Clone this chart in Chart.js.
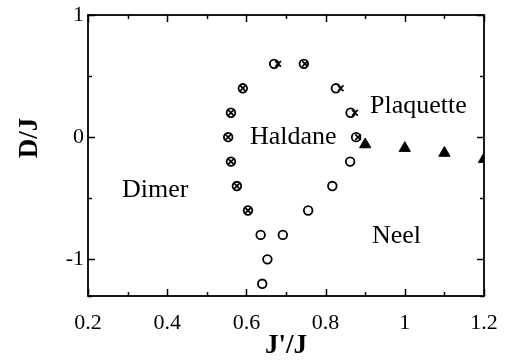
<!DOCTYPE html>
<html>
<head>
<meta charset="utf-8">
<script src="https://cdn.jsdelivr.net/npm/chart.js@4"></script>
<style>
  html, body { margin: 0; padding: 0; background: #fff; }
  #wrap { width: 507px; height: 360px; }
</style>
</head>
<body>
<div id="wrap"><canvas id="c" width="507" height="360"></canvas></div>
<script>
// open circles: phase boundary points (J'/J, D/J)
var circleX = [0.670, 0.745, 0.591, 0.826, 0.561, 0.863, 0.554, 0.877, 0.561, 0.862,
               0.576, 0.817, 0.604, 0.756, 0.636, 0.692, 0.653, 0.640];
var circleY = [0.6, 0.6, 0.4, 0.4, 0.2, 0.2, 0, 0, -0.2, -0.2,
               -0.4, -0.4, -0.6, -0.6, -0.8, -0.8, -1.0, -1.2];

// crosses
var crossX = [0.680, 0.748, 0.591, 0.838, 0.561, 0.874, 0.554, 0.882, 0.561, 0.576, 0.604];
var crossY = [0.6, 0.6, 0.4, 0.4, 0.2, 0.2, 0, 0, -0.2, -0.4, -0.6];

// filled triangles
var triX = [0.9, 1.0, 1.1, 1.2];
var triY = [-0.06, -0.09, -0.13, -0.18];

// phase names
var phaseNames = ['Plaquette', 'Haldane', 'Dimer', 'Neel'];
var phaseX = [0.912, 0.609, 0.286, 0.917];
var phaseY = [0.25, 0, -0.43, -0.81];

function pts(xs, ys) {
  return xs.map(function (x, i) { return { x: x, y: ys[i] }; });
}

var serif = "'Liberation Serif', 'DejaVu Serif', serif";

// ticks pointing into the plot, on all four sides
var inTicks = {
  id: 'inTicks',
  afterDatasetsDraw: function (chart) {
    var ctx = chart.ctx, a = chart.chartArea;
    var xs = chart.scales.x, ys = chart.scales.y;
    ctx.save();
    ctx.strokeStyle = '#000';
    ctx.lineWidth = 1.8;
    ctx.strokeRect(a.left, a.top, a.right - a.left, a.bottom - a.top);
    ctx.lineWidth = 1.5;
    xs.ticks.forEach(function (t) {
      var px = Math.round(xs.getPixelForValue(t.value)) + 0.5;
      var major = Math.abs(t.value * 5 - Math.round(t.value * 5)) < 1e-6;
      var len = major ? 7 : 4;
      ctx.beginPath();
      ctx.moveTo(px, a.bottom); ctx.lineTo(px, a.bottom - len);
      ctx.moveTo(px, a.top); ctx.lineTo(px, a.top + len);
      ctx.stroke();
    });
    ys.ticks.forEach(function (t) {
      var py = Math.round(ys.getPixelForValue(t.value)) + 0.5;
      var major = Math.abs(t.value - Math.round(t.value)) < 1e-6;
      var len = major ? 7 : 4;
      ctx.beginPath();
      ctx.moveTo(a.left, py); ctx.lineTo(a.left + len, py);
      ctx.moveTo(a.right, py); ctx.lineTo(a.right - len, py);
      ctx.stroke();
    });
    ctx.restore();
  }
};

var phaseText = {
  id: 'phaseText',
  afterDatasetsDraw: function (chart) {
    var ctx = chart.ctx;
    var xs = chart.scales.x, ys = chart.scales.y;
    ctx.save();
    ctx.fillStyle = '#000';
    ctx.font = '26px ' + serif;
    ctx.textAlign = 'left';
    ctx.textBaseline = 'middle';
    phaseNames.forEach(function (n, i) {
      ctx.fillText(n, xs.getPixelForValue(phaseX[i]), ys.getPixelForValue(phaseY[i]));
    });
    // y axis title, sits a bit above the axis middle like the original
    ctx.font = 'bold 27px ' + serif;
    ctx.textAlign = 'center';
    ctx.translate(30, 138);
    ctx.rotate(-Math.PI / 2);
    ctx.fillText('D/J', 0, 0);
    ctx.restore();
  }
};

new Chart(document.getElementById('c').getContext('2d'), {
  type: 'scatter',
  data: {
    datasets: [
      {
        label: 'circles',
        data: pts(circleX, circleY),
        pointStyle: 'circle',
        pointRadius: 4.3,
        borderColor: '#000',
        backgroundColor: 'rgba(0,0,0,0)',
        borderWidth: 1.8
      },
      {
        label: 'crosses',
        data: pts(crossX, crossY),
        pointStyle: 'crossRot',
        pointRadius: 4,
        borderColor: '#000',
        borderWidth: 1.7
      },
      {
        label: 'triangles',
        data: pts(triX, triY),
        pointStyle: 'triangle',
        pointRadius: 6.5,
        borderColor: '#000',
        backgroundColor: '#000',
        borderWidth: 1
      }
    ]
  },
  options: {
    responsive: false,
    animation: false,
    events: [],
    layout: { padding: { top: 15, right: 23, left: 0, bottom: 0 } },
    plugins: { legend: { display: false }, tooltip: { enabled: false } },
    scales: {
      x: {
        type: 'linear',
        min: 0.2,
        max: 1.2,
        grid: { display: false, drawTicks: false },
        border: { display: false },
        ticks: {
          stepSize: 0.1,
          color: '#000',
          padding: 14,
          maxRotation: 0,
          autoSkip: false,
          font: { family: serif, size: 22 },
          callback: function (v) {
            var k = Math.round(v * 10);
            return k % 2 === 0 ? String(k / 10) : '';
          }
        },
        title: {
          display: true,
          text: "J'/J",
          color: '#000',
          padding: { top: 0, bottom: 0 },
          font: { family: serif, size: 27, weight: 'bold', lineHeight: 1 }
        },
        afterFit: function (s) {
          s.height = 64;
          s.paddingLeft = 0;
          s.paddingRight = 0;
        }
      },
      y: {
        type: 'linear',
        min: -1.3,
        max: 1,
        grid: { display: false, drawTicks: false },
        border: { display: false },
        ticks: {
          stepSize: 0.5,
          color: '#000',
          padding: 4,
          autoSkip: false,
          font: { family: serif, size: 22 },
          callback: function (v) {
            return Math.abs(v - Math.round(v)) < 1e-6 ? String(Math.round(v)) : '';
          }
        },
        afterFit: function (s) {
          s.width = 88;
          s.paddingTop = 0;
          s.paddingBottom = 0;
        }
      }
    }
  },
  plugins: [inTicks, phaseText]
});
</script>
</body>
</html>
